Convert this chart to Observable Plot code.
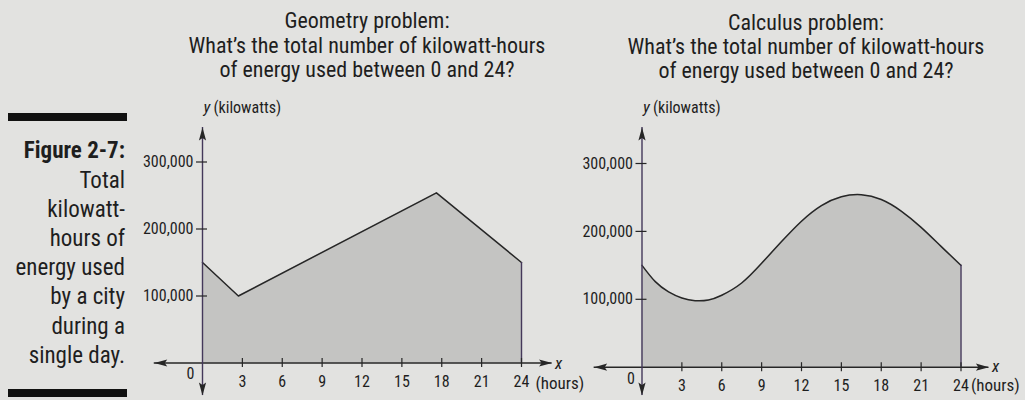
<!DOCTYPE html>
<html>
<head>
<meta charset="utf-8">
<script src="https://cdn.jsdelivr.net/npm/d3@7"></script>
<script src="https://cdn.jsdelivr.net/npm/@observablehq/plot@0.6"></script>
<style>
  html, body { margin: 0; padding: 0; }
  body { width: 1025px; height: 400px; overflow: hidden; background: #e2e2e0; }
  #root { position: relative; width: 1025px; height: 400px; overflow: hidden; color: #1e1e1e;
    font-family: "Roboto Condensed", "DejaVu Sans Condensed", sans-serif; }
  .line { position: absolute; white-space: nowrap; line-height: 1; }
  .bar { position: absolute; background: #111; }
</style>
</head>
<body>
<div id="root"></div>
<script>
// ---------- data ----------
const geomHours = [0, 2.7, 17.6, 24];
const geomKW = [150000, 100000, 254000, 150000];

const calcHours = [0, 1, 2, 3, 4, 5, 6, 7.5, 9, 10.5, 12, 13.5, 15, 16.5, 18, 19.5, 21, 22.5, 24];
const calcKW = [150000, 126000, 111000, 102000, 98000, 99000, 106000, 124000, 153000, 185000,
                215000, 238000, 251000, 254000, 247000, 230000, 206000, 178000, 150000];

const xTicks = [3, 6, 9, 12, 15, 18, 21, 24];
const yTicks = [100000, 200000, 300000];

const geomTitle = ["Geometry problem:", "What\u2019s the total number of kilowatt-hours", "of energy used between 0 and 24?"];
const calcTitle = ["Calculus problem:", "What\u2019s the total number of kilowatt-hours", "of energy used between 0 and 24?"];
const captionLines = ["Figure 2-7:", "Total", "kilowatt-", "hours of", "energy used", "by a city", "during a", "single day."];
const yAxisName = "y";
const yAxisUnit = "(kilowatts)";
const xAxisName = "x";
const xAxisUnit = "(hours)";

// ---------- page ----------
const root = document.getElementById("root");
const FONT = '"Roboto Condensed", "DejaVu Sans Condensed", sans-serif';
const ASC = 0.83; // baseline offset factor for line-height:1 (Roboto)

function addLine(text, {x, baseline, size, align = "center", weight = "normal"}) {
  const d = document.createElement("div");
  d.className = "line";
  d.textContent = text;
  d.style.fontSize = size + "px";
  d.style.fontWeight = weight;
  d.style.top = (baseline - ASC * size) + "px";
  if (align === "center") { d.style.left = x + "px"; d.style.transform = "translateX(-50%)"; }
  else if (align === "right") { d.style.right = (1025 - x) + "px"; }
  else d.style.left = x + "px";
  root.appendChild(d);
}

geomTitle.forEach((t, i) => addLine(t, {x: 367, baseline: 28.5 + i * 24.5, size: 22}));
calcTitle.forEach((t, i) => addLine(t, {x: 806, baseline: 30 + i * 24.3, size: 22}));
captionLines.forEach((t, i) => addLine(t, {
  x: 125, baseline: 158.5 + i * 29.2, align: "right",
  size: 23,
  weight: i === 0 ? "bold" : "normal"
}));

for (const [top, h] of [[113, 8], [389, 8]]) {
  const b = document.createElement("div");
  b.className = "bar";
  b.style.left = "8px"; b.style.width = "119px";
  b.style.top = top + "px"; b.style.height = h + "px";
  root.appendChild(b);
}

// ---------- charts ----------
const ink = "#262626";
const axisV = "#44385a";
const areaFill = "#c4c4c2";

const arrowHead = {
  draw(ctx) { // tip at origin, pointing up
    ctx.moveTo(0, 0);
    ctx.lineTo(3.6, 13);
    ctx.lineTo(0, 10.5);
    ctx.lineTo(-3.6, 13);
    ctx.closePath();
  }
};

function chart(hours, kw, cfg) {
  const data = hours.map((h, i) => ({h, kw: kw[i]}));
  const last = data[data.length - 1];
  const heads = [
    {x: cfg.xExt[0], y: 0, r: -90},
    {x: cfg.xExt[1], y: 0, r: 90},
    {x: 0, y: cfg.yExt[1], r: 0},
    {x: 0, y: cfg.yExt[0], r: 180}
  ];
  return Plot.plot({
    width: 1025, height: 400,
    marginLeft: cfg.ml, marginRight: cfg.mr, marginTop: cfg.mt, marginBottom: cfg.mb,
    x: {domain: [0, 24]},
    y: {domain: [0, 300000]},
    style: {background: "transparent", overflow: "visible", position: "absolute", left: "0px", top: "0px",
            fontFamily: FONT, color: "#1e1e1e"},
    marks: [
      Plot.areaY(data, {x: "h", y: "kw", fill: areaFill, curve: cfg.curve}),
      Plot.lineY(data, {x: "h", y: "kw", stroke: ink, strokeWidth: 1.5, curve: cfg.curve}),
      Plot.ruleX([last], {x: "h", y1: 0, y2: "kw", stroke: axisV, strokeWidth: 1.4}),
      Plot.ruleY([0], {x1: cfg.xExt[0], x2: cfg.xExt[1], y: 0, stroke: ink, strokeWidth: 1.4}),
      Plot.ruleX([0], {x: 0, y1: cfg.yExt[0], y2: cfg.yExt[1], stroke: axisV, strokeWidth: 1.4}),
      Plot.dot(heads, {x: "x", y: "y", rotate: "r", symbol: arrowHead, fill: ink, stroke: "none", r: 4}),
      Plot.ruleX(xTicks, {x: d => d, y1: 0, y2: 0, insetTop: -4.5, insetBottom: -4.5, stroke: ink, strokeWidth: 1.2}),
      Plot.ruleY(yTicks, {y: d => d, x1: 0, x2: 0, insetLeft: -6, insetRight: -5, stroke: ink, strokeWidth: 1.2}),
      Plot.axisX(xTicks, {tickSize: 0, tickPadding: cfg.xPad, fontSize: 16, label: null}),
      Plot.axisY(yTicks, {tickSize: 0, tickPadding: 9, fontSize: 16, label: null, tickFormat: d3.format(",")}),
      Plot.text([0], {x: 0, y: 0, text: d => String(d), dx: cfg.zeroDx, dy: cfg.zeroDy, lineAnchor: "bottom", fontSize: 16}),
      Plot.text([xAxisName], {x: cfg.xExt[1], y: 0, text: d => d, dx: 3, dy: cfg.xNameDy, textAnchor: "start", lineAnchor: "bottom", fontSize: 17, fontStyle: "italic"}),
      Plot.text([xAxisUnit], {x: 24, y: 0, text: d => d, dx: cfg.unitDx, dy: cfg.unitDy, textAnchor: "start", lineAnchor: "bottom", fontSize: 17}),
      Plot.text([yAxisName], {x: 0, y: 300000, text: d => d, dx: 1, dy: cfg.yNameDy, textAnchor: "start", lineAnchor: "bottom", fontSize: 17, fontStyle: "italic"}),
      Plot.text([yAxisUnit], {x: 0, y: 300000, text: d => d, dx: 11, dy: cfg.yNameDy, textAnchor: "start", lineAnchor: "bottom", fontSize: 16})
    ]
  });
}

root.appendChild(chart(geomHours, geomKW, {
  ml: 202, mr: 504, mt: 161.5, mb: 37.5, curve: "linear",
  xExt: [-3.63, 26.3], yExt: [-48500, 351500],
  xPad: 13, zeroDx: -12, zeroDy: 15.5, xNameDy: 6, unitDx: 14, unitDy: 26, yNameDy: -49.5
}));
root.appendChild(chart(calcHours, calcKW, {
  ml: 641.5, mr: 64.5, mt: 163, mb: 33.3, curve: "natural",
  xExt: [-3.6, 26.1], yExt: [-41500, 353000],
  xPad: 12, zeroDx: -11, zeroDy: 16.3, xNameDy: 5, unitDx: 10, unitDy: 23.5, yNameDy: -51
}));
</script>
</body>
</html>
